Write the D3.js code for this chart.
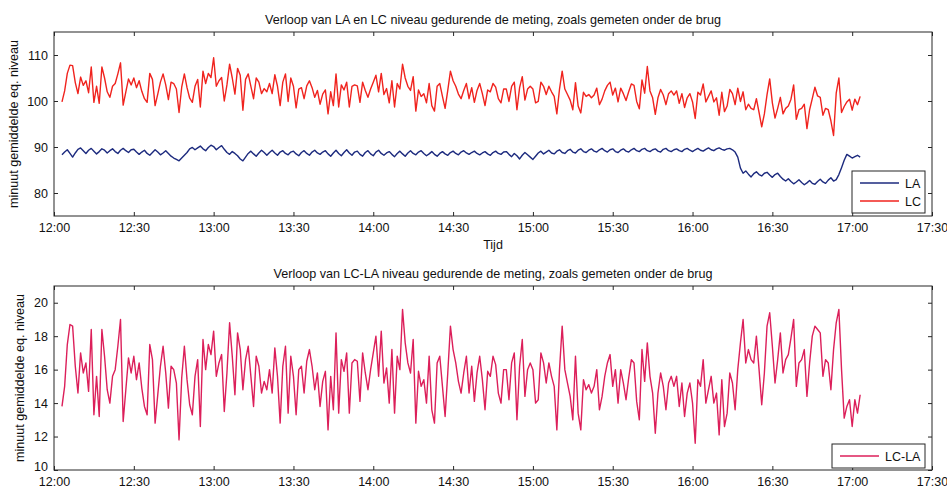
<!DOCTYPE html>
<html><head><meta charset="utf-8">
<script src="https://cdn.jsdelivr.net/npm/d3@7"></script>
<style>
body{margin:0;background:#fff}
svg text{font-family:"Liberation Sans",Arial,sans-serif;fill:#111}
</style>
</head><body>
<svg id="chart" width="947" height="490"></svg>
<script>
// ---------- data ----------
const startTime = "12:03";          // first one-minute average
const xTickLabels = ["12:00","12:30","13:00","13:30","14:00","14:30","15:00","15:30","16:00","16:30","17:00","17:30"];
const topYTicks = [80, 90, 100, 110];
const bottomYTicks = [10, 12, 14, 16, 18, 20];
const topTitle = "Verloop van LA en LC niveau gedurende de meting, zoals gemeten onder de brug";
const bottomTitle = "Verloop van LC-LA niveau gedurende de meting, zoals gemeten onder de brug";
const yLabel = "minuut gemiddelde eq. niveau";
const xLabel = "Tijd";
const seriesNames = ["LA", "LC", "LC-LA"];

const LA = [
88.3,88.9,89.4,88.6,87.8,88.7,89.5,89.8,89.2,88.6,89.3,89.7,89.1,88.5,89.0,89.6,89.3,88.7,
89.2,89.6,89.0,88.6,89.3,89.7,89.2,88.8,89.4,89.5,88.9,88.4,88.9,89.3,88.6,88.2,88.8,89.4,88.9,88.3,
88.7,89.2,88.6,88.0,87.6,87.3,87.0,87.6,88.2,88.8,89.6,89.9,89.4,89.8,90.2,89.6,89.2,89.9,90.4,90.1,
89.4,89.9,90.3,89.5,88.8,88.4,89.0,88.6,88.1,87.4,87.0,87.8,88.6,89.1,88.5,88.0,88.7,89.3,88.8,88.2,
88.8,89.3,88.7,88.2,88.9,89.2,88.6,88.3,88.9,89.1,88.5,88.1,88.8,89.2,88.6,88.2,88.9,89.3,88.7,88.4,
88.9,89.2,88.5,88.0,88.7,89.3,88.6,88.1,88.8,89.4,88.7,88.2,88.9,89.1,88.4,88.0,88.8,89.2,88.5,88.1,
88.9,89.3,88.6,88.2,88.7,89.0,88.4,87.9,88.6,89.1,88.5,88.0,88.7,89.2,88.6,88.3,88.9,89.2,88.6,88.1,
88.5,89.0,88.4,88.0,88.6,89.0,88.5,88.2,88.8,89.1,88.6,88.3,88.9,89.2,88.7,88.4,88.8,89.1,88.6,88.3,
88.7,89.0,88.5,88.2,88.8,89.1,88.6,88.4,88.9,89.0,88.4,87.9,88.6,88.1,87.4,88.2,88.8,88.3,87.8,87.3,
88.0,88.7,89.1,88.5,88.9,89.3,88.7,88.5,89.1,89.4,88.8,88.6,89.2,89.5,88.9,88.7,89.3,89.6,89.0,88.8,
89.3,89.6,89.1,88.9,89.4,89.7,89.2,88.9,89.4,89.6,89.0,88.8,89.3,89.6,89.1,88.9,89.4,89.7,89.2,89.0,
89.5,89.7,89.2,89.0,89.4,89.6,89.1,88.9,89.5,89.7,89.2,89.0,89.4,89.6,89.2,89.0,89.5,89.7,89.3,89.0,
89.4,89.7,89.3,89.1,89.5,89.8,89.4,89.2,89.6,89.8,89.5,89.3,89.6,89.7,89.4,88.9,87.8,
85.4,84.3,84.8,84.1,83.5,84.2,84.6,84.0,83.7,84.3,84.5,83.9,83.4,84.0,84.3,83.6,83.0,82.6,83.1,82.5,82.0,82.4,82.9,
82.3,81.8,82.2,82.7,82.1,81.9,82.5,83.0,82.4,82.1,82.8,83.3,82.6,82.9,84.0,85.5,87.1,88.4,88.0,87.6,87.9,88.2,87.8
];

const LC = [
99.8,102.2,106.0,107.8,107.7,104.0,101.6,105.2,103.4,104.4,101.8,107.4,99.7,103.2,99.5,107.4,105.0,102.0,
100.8,103.2,103.8,105.9,108.3,99.1,102.0,104.8,103.5,105.0,102.9,104.4,102.1,100.5,99.7,106.0,104.7,99.0,101.5,104.1,
105.9,103.5,100.3,104.1,103.8,102.6,97.5,103.0,105.9,102.9,100.6,99.7,103.2,104.7,98.7,106.5,103.8,106.0,105.1,109.4,
103.2,104.4,105.1,100.0,103.5,108.0,105.0,101.5,107.1,105.6,98.0,104.7,105.9,103.2,100.5,105.0,104.1,101.6,102.7,102.0,
103.8,101.6,105.7,103.2,99.0,104.1,105.9,99.9,105.0,103.2,98.5,102.6,102.9,100.5,103.3,104.4,102.9,100.8,102.3,99.3,
101.5,102.4,97.2,102.0,99.0,105.9,98.7,103.5,102.4,104.1,98.7,103.2,103.5,103.3,99.7,104.1,102.3,100.8,102.6,104.1,
105.6,102.0,106.0,101.4,102.7,99.6,104.4,98.7,103.8,102.6,108.0,105.0,103.2,102.3,105.3,97.8,102.4,101.0,101.6,99.6,
103.8,99.0,97.8,103.2,103.8,101.0,98.4,102.3,106.5,104.4,103.2,101.5,100.5,102.3,103.8,100.5,102.9,99.7,102.3,103.8,
101.6,99.0,102.4,102.0,103.8,103.0,100.5,99.6,102.6,102.6,99.9,103.2,104.1,98.1,102.9,105.3,100.2,102.6,103.2,102.6,
99.6,99.9,104.1,103.2,101.4,103.2,102.0,101.0,97.2,102.6,106.5,102.6,101.4,100.2,98.1,104.0,98.9,97.4,101.9,101.0,
101.4,100.7,101.3,102.8,99.2,100.4,102.2,103.4,104.1,101.3,102.8,99.8,102.8,101.6,100.1,102.0,103.7,103.4,99.9,98.3,
104.6,101.7,107.5,102.2,100.7,97.1,100.7,102.5,101.3,99.2,101.6,102.2,101.3,102.2,99.5,101.6,98.6,100.7,101.6,99.8,
96.2,101.9,101.3,103.7,99.8,101.0,102.2,99.8,100.7,96.9,101.9,97.7,98.9,102.5,101.6,99.2,102.8,
99.9,102.0,98.1,99.3,98.4,98.1,100.5,97.5,94.4,97.2,101.4,104.8,99.6,96.3,98.4,100.8,97.2,98.4,98.9,100.4,103.5,96.0,98.1,
98.4,99.3,94.0,98.1,100.5,103.0,101.1,100.8,96.9,98.4,98.1,95.7,92.5,101.7,105.0,97.5,98.8,99.8,100.4,98.0,100.4,99.2,101.0
];

const LCminLA = [
13.8,15.0,17.5,18.7,18.6,16.2,14.6,17.0,15.8,16.4,14.7,18.4,13.3,15.6,13.2,18.4,16.8,14.8,
14.0,15.6,16.0,17.4,19.0,12.9,14.8,16.7,15.8,16.8,15.4,16.4,14.9,13.8,13.3,17.5,16.6,12.8,14.5,16.2,
17.4,15.8,13.7,16.2,16.0,15.2,11.8,15.5,17.4,15.4,13.9,13.3,15.6,16.6,12.6,17.8,16.0,17.5,16.9,18.3,
15.6,16.4,16.9,13.5,15.8,18.8,16.8,14.5,18.2,17.2,14.8,16.6,17.4,15.6,13.8,16.8,16.2,14.6,15.3,14.8,
16.0,14.6,17.3,15.6,12.8,16.2,17.4,13.4,16.8,15.6,13.3,16.0,16.2,14.6,16.5,17.2,16.2,14.8,15.8,13.8,
15.3,15.9,12.4,15.6,13.6,18.2,13.4,16.6,15.9,17.0,13.4,16.4,16.6,16.5,14.1,17.0,15.8,14.8,16.0,17.0,
18.0,15.6,18.3,15.2,16.1,14.0,17.2,13.4,16.8,16.0,19.6,17.6,16.4,15.8,17.8,12.8,15.9,15.0,15.4,14.0,
16.8,13.6,12.8,16.4,16.8,15.0,13.2,15.8,18.6,17.2,16.4,15.3,14.6,15.8,16.8,14.6,16.2,14.1,15.8,16.8,
15.4,13.6,15.9,15.6,16.8,16.3,14.6,14.0,16.0,16.0,14.2,16.4,17.0,13.0,16.2,17.8,14.4,16.0,16.4,16.0,
14.0,14.2,17.0,16.4,15.2,16.4,15.6,15.0,12.4,16.0,18.6,16.0,15.2,14.4,13.0,16.8,13.4,12.4,15.4,14.8,
15.1,14.6,15.0,16.0,13.6,14.4,15.6,16.4,16.9,15.0,16.0,14.0,16.0,15.2,14.2,15.5,16.6,16.4,14.1,13.0,
17.2,15.3,17.6,15.6,14.6,12.2,14.6,15.8,15.0,13.6,15.2,15.6,15.0,15.6,13.8,15.2,13.2,14.6,15.2,14.0,
11.6,15.4,15.0,16.6,14.0,14.8,15.6,14.0,14.6,12.1,15.4,12.6,13.4,15.8,15.2,13.6,16.0,
17.6,19.0,16.4,17.2,16.6,16.4,18.0,16.0,13.9,15.8,18.6,19.4,17.4,15.2,16.6,18.2,15.8,16.6,16.9,17.9,19.0,15.0,16.4,
16.6,17.2,14.4,16.4,18.0,18.6,18.4,18.2,15.6,16.6,16.4,14.8,17.2,18.8,19.6,16.0,13.1,13.8,14.2,12.6,14.2,13.4,14.5
];

// ---------- drawing ----------
const colors = {LA: "#1c2a7e", LC: "#f0231e", LCLA: "#dc1f5a", axis: "#262626"};
const svg = d3.select("#chart");
const parse = d3.timeParse("%H:%M");
const t0 = parse(startTime);
const times = LA.map((_, i) => d3.timeMinute.offset(t0, i));
const tickDates = xTickLabels.map(parse);

const L = 54, R = 932;
const x = d3.scaleTime().domain([tickDates[0], tickDates[tickDates.length - 1]]).range([L, R]);
const panels = [
  {top: 32, bottom: 216, domain: [75, 115], ticks: topYTicks, title: topTitle, titleY: 24, ylx: 14},
  {top: 286, bottom: 470, domain: [10, 21], ticks: bottomYTicks, title: bottomTitle, titleY: 278, ylx: 20}
];
panels.forEach(p => p.y = d3.scaleLinear().domain(p.domain).range([p.bottom, p.top]));

function drawAxes(p, id) {
  const g = svg.append("g");
  const fs = "12.5px";
  const ax = [
    [d3.axisBottom(x).tickValues(tickDates).tickFormat((d, i) => xTickLabels[i]).tickPadding(7), `translate(0,${p.bottom})`, "x"],
    [d3.axisTop(x).tickValues(tickDates).tickFormat(""), `translate(0,${p.top})`, ""],
    [d3.axisLeft(p.y).tickValues(p.ticks).tickFormat(d3.format("d")).tickPadding(6), `translate(${L},0)`, "y"],
    [d3.axisRight(p.y).tickValues(p.ticks).tickFormat(""), `translate(${R},0)`, ""]
  ];
  ax.forEach(([a, tr, kind]) => {
    const ag = g.append("g").attr("transform", tr)
      .call(a.tickSizeInner(-4).tickSizeOuter(0));
    ag.select(".domain").remove();
    ag.selectAll("line").attr("stroke", colors.axis);
    ag.attr("font-size", fs).attr("font-family", "Liberation Sans, Arial, sans-serif");
    ag.selectAll("text").attr("fill", "#111");
    if (kind === "y") {
      // lowest label sits just above the corner, clear of the time labels
      ag.selectAll("text").filter(d => d === p.domain[0]).attr("dy", "0.05em");
    }
  });
  g.append("rect").attr("x", L).attr("y", p.top).attr("width", R - L).attr("height", p.bottom - p.top)
    .attr("fill", "none").attr("stroke", colors.axis).attr("stroke-width", 1);
  svg.append("clipPath").attr("id", "clip" + id).append("rect")
    .attr("x", L).attr("y", p.top).attr("width", R - L).attr("height", p.bottom - p.top);
  svg.append("text").attr("x", (L + R) / 2).attr("y", p.titleY).attr("text-anchor", "middle")
    .attr("font-size", "12.6px").text(p.title);
  svg.append("text").attr("transform", `translate(${p.ylx},${(p.top + p.bottom) / 2}) rotate(-90)`)
    .attr("text-anchor", "middle").attr("dy", "0.35em").attr("font-size", "12.6px").text(yLabel);
}
panels.forEach(drawAxes);

function drawLine(p, id, values, color, w) {
  const line = d3.line().x((d, i) => x(times[i])).y(d => p.y(d));
  svg.append("path").datum(values).attr("clip-path", `url(#clip${id})`)
    .attr("fill", "none").attr("stroke", color).attr("stroke-width", w)
    .attr("stroke-linejoin", "round").attr("d", line);
}
drawLine(panels[0], 0, LC, colors.LC, 1.4);
drawLine(panels[0], 0, LA, colors.LA, 1.4);
drawLine(panels[1], 1, LCminLA, colors.LCLA, 1.4);

svg.append("text").attr("x", (L + R) / 2).attr("y", 249).attr("text-anchor", "middle")
  .attr("font-size", "12.5px").text(xLabel);

// legends
function legend(x0, y0, w, items) {
  const h = items.length * 18 + 6;
  svg.append("rect").attr("x", x0).attr("y", y0).attr("width", w).attr("height", h)
    .attr("fill", "#fff").attr("stroke", colors.axis).attr("stroke-width", 1);
  items.forEach((it, i) => {
    const cy = y0 + 12 + i * 18;
    svg.append("line").attr("x1", x0 + 8).attr("x2", x0 + 47).attr("y1", cy).attr("y2", cy)
      .attr("stroke", it.color).attr("stroke-width", 1.3);
    svg.append("text").attr("x", x0 + 53).attr("y", cy).attr("dy", "0.36em")
      .attr("font-size", "12.5px").text(it.name);
  });
}
legend(852, 171, 73, [{name: seriesNames[0], color: colors.LA}, {name: seriesNames[1], color: colors.LC}]);
legend(832, 444, 93, [{name: seriesNames[2], color: colors.LCLA}]);
</script>
</body></html>
